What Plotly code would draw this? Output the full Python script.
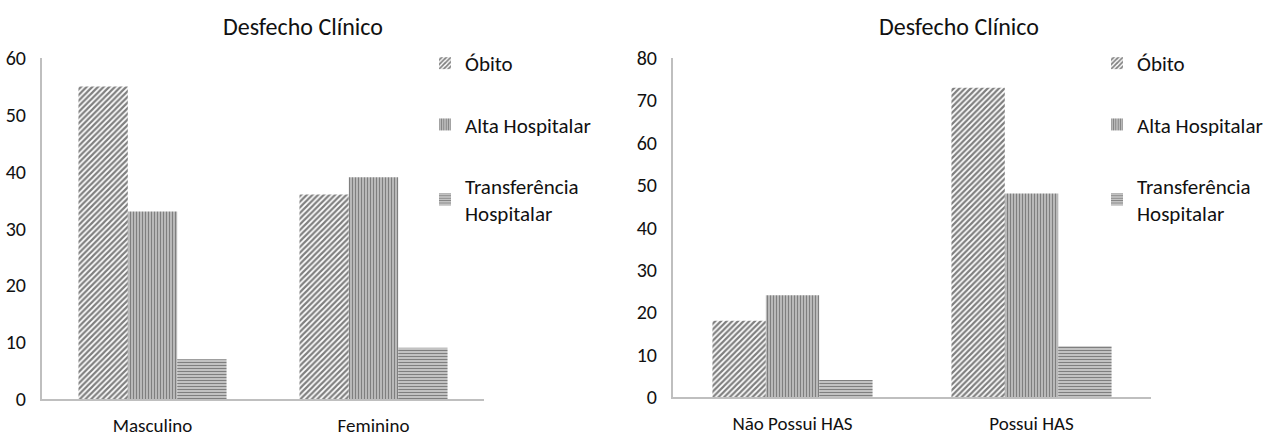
import plotly.graph_objects as go

series = ["Óbito", "Alta Hospitalar", "Transferência<br>Hospitalar"]
patterns = ["/", "|", "-"]

cats_left = ["Masculino", "Feminino"]
left_obito = [55, 36]
left_alta = [33, 39]
left_transf = [7, 9]

cats_right = ["Não Possui HAS", "Possui HAS"]
right_obito = [18, 73]
right_alta = [24, 48]
right_transf = [4, 12]

title_text = "Desfecho Clínico"
left_yticks = [0, 10, 20, 30, 40, 50, 60]
right_yticks = [0, 10, 20, 30, 40, 50, 60, 70, 80]

FONT = "Carlito, Liberation Sans Narrow, Lato, sans-serif"
TXT = "#111111"
W, H = 1266, 441

fig = go.Figure()
left_vals = [left_obito, left_alta, left_transf]
right_vals = [right_obito, right_alta, right_transf]
sizes = [4, 3, 3]
solid = [0.55, 0.7, 0.65]

for i, name in enumerate(series):
    fig.add_trace(go.Bar(
        x=cats_left, y=left_vals[i], name=name, xaxis="x", yaxis="y",
        legend="legend", legendgroup="L%d" % i,
        marker=dict(color="white", line=dict(width=0),
                    pattern=dict(shape=patterns[i], fgcolor="black", bgcolor="white",
                                 size=sizes[i], solidity=solid[i], fillmode="overlay")),
    ))
for i, name in enumerate(series):
    fig.add_trace(go.Bar(
        x=cats_right, y=right_vals[i], name=name, xaxis="x2", yaxis="y2",
        legend="legend2", legendgroup="R%d" % i,
        marker=dict(color="white", line=dict(width=0),
                    pattern=dict(shape=patterns[i], fgcolor="black", bgcolor="white",
                                 size=sizes[i], solidity=solid[i], fillmode="overlay")),
    ))

xaxis_common = dict(showgrid=False, zeroline=False, ticks="", showline=True,
                    linecolor="#bfbfbf", linewidth=2, automargin=False, ticklabelstandoff=8,
                    tickfont=dict(family=FONT, size=19, color=TXT))
yaxis_common = dict(showgrid=False, zeroline=False, ticks="", showline=True,
                    linecolor="#bfbfbf", linewidth=2, automargin=False, ticklabelstandoff=10,
                    tickfont=dict(family=FONT, size=20, color=TXT))


def px_x(p):
    return p / W


def px_y(p):
    return 1 - p / H


fig.update_layout(
    width=W, height=H,
    margin=dict(l=0, r=0, t=0, b=0, autoexpand=False),
    paper_bgcolor="white", plot_bgcolor="white",
    barmode="group", bargap=0.33, bargroupgap=0.0,
    font=dict(family=FONT, size=20, color=TXT),
    xaxis=dict(domain=[px_x(42), px_x(484)], anchor="y", **xaxis_common),
    yaxis=dict(domain=[px_y(399), px_y(58)], anchor="x", range=[0, 60],
               tickvals=left_yticks, **yaxis_common),
    xaxis2=dict(domain=[px_x(673), px_x(1151)], anchor="y2", **xaxis_common),
    yaxis2=dict(domain=[px_y(397), px_y(58)], anchor="x2", range=[0, 80],
                tickvals=right_yticks, **yaxis_common),
    legend=dict(x=px_x(425), y=px_y(43), xanchor="left", yanchor="top",
                tracegroupgap=31, itemwidth=30, bgcolor="rgba(0,0,0,0)",
                font=dict(family=FONT, size=21, color=TXT)),
    legend2=dict(x=px_x(1097), y=px_y(43), xanchor="left", yanchor="top",
                 tracegroupgap=31, itemwidth=30, bgcolor="rgba(0,0,0,0)",
                 font=dict(family=FONT, size=21, color=TXT)),
    annotations=[
        dict(text=title_text, x=px_x(303), y=px_y(26), xref="paper", yref="paper",
             xanchor="center", yanchor="middle", showarrow=False,
             font=dict(family=FONT, size=24, color=TXT)),
        dict(text=title_text, x=px_x(959), y=px_y(26), xref="paper", yref="paper",
             xanchor="center", yanchor="middle", showarrow=False,
             font=dict(family=FONT, size=24, color=TXT)),
    ],
)

fig.write_html("out.html")
